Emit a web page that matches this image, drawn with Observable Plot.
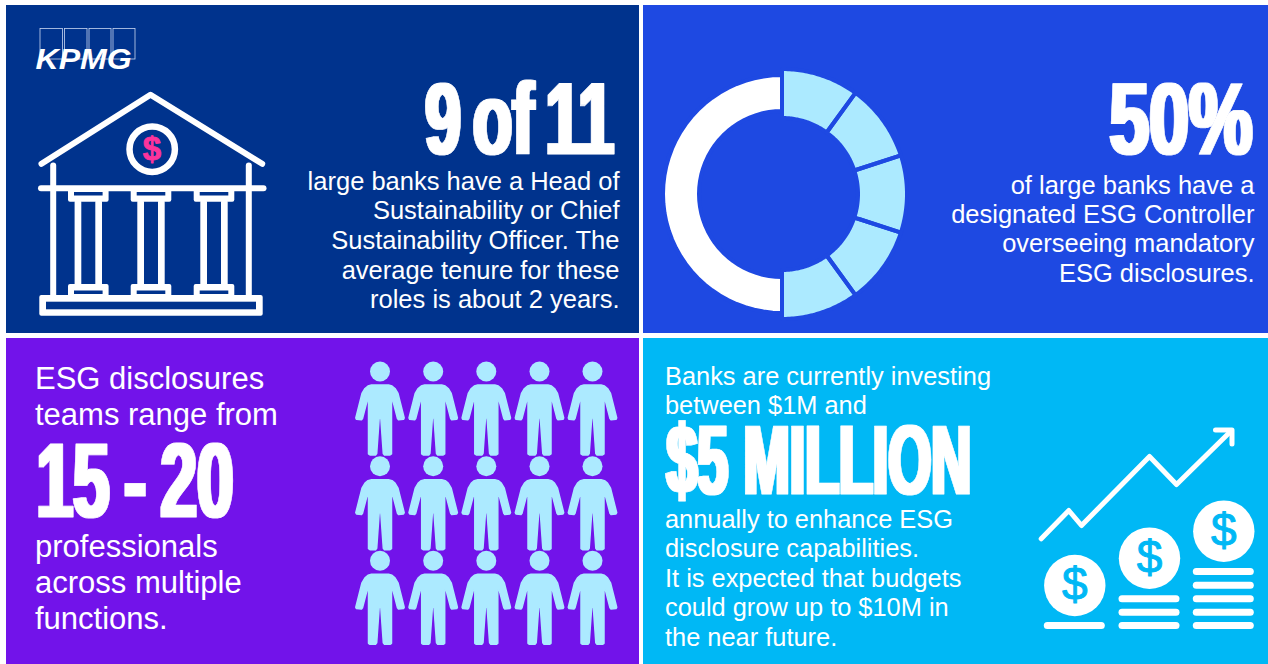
<!DOCTYPE html>
<html>
<head>
<meta charset="utf-8">
<script src="https://cdn.jsdelivr.net/npm/d3@7"></script>
<script src="https://cdn.jsdelivr.net/npm/@observablehq/plot@0.6"></script>
<style>
  html, body { margin: 0; padding: 0; background: #fff; overflow: hidden; }
  svg { display: block; }
  #filters { position: absolute; width: 0; height: 0; }
</style>
</head>
<body>
<!-- Widens vertical stems only, giving the display figures their heavy condensed look -->
<svg id="filters" width="0" height="0"><defs>
  <filter id="stems" x="-5%" y="-5%" width="110%" height="110%" color-interpolation-filters="sRGB">
    <feMorphology operator="dilate" radius="2.4 0"/>
  </filter>
</defs></svg>
<div id="chart"></div>
<script>
// Palette
const navy = "#00338D", royal = "#1E49E2", purple = "#7213EA", cyan = "#00B8F5";
const pale = "#ACEAFF", pink = "#FD349C", white = "#FFFFFF";
const sans = "Liberation Sans, Arial, sans-serif";

// Four quadrants
const panels = [
  {x1: 6, x2: 639, y1: 5, y2: 333, fill: navy},
  {x1: 643, x2: 1268, y1: 5, y2: 333, fill: royal},
  {x1: 6, x2: 639, y1: 338, y2: 664, fill: purple},
  {x1: 643, x2: 1268, y1: 338, y2: 664, fill: cyan}
];

// Copy
const headLines = ["large banks have a Head of", "Sustainability or Chief", "Sustainability Officer. The", "average tenure for these", "roles is about 2 years."];
const controllerLines = ["of large banks have a", "designated ESG Controller", "overseeing mandatory", "ESG disclosures."];
const teamLinesTop = ["ESG disclosures", "teams range from"];
const teamLinesBottom = ["professionals", "across multiple", "functions."];
const investLinesTop = ["Banks are currently investing", "between $1M and"];
const investLinesBottom = ["annually to enhance ESG", "disclosure capabilities.", "It is expected that budgets", "could grow up to $10M in", "the near future."];

// Donut: half the ring is white, the other half is cut into five equal slices
const donutShares = [50, 10, 10, 10, 10, 10];
const donutFills = [white, pale, pale, pale, pale, pale];
const donutCenter = [781.5, 193.5];
const donutRadii = [[83, 119], [76, 125], [76, 125], [76, 125], [76, 125], [76, 125]];

// Team pictogram
const peopleX = [379.5, 432.7, 485.8, 539, 592];
const peopleY = [371, 465.7, 560.3];
const personRight = [[0, 13.5], [8.5, 13.5], [12, 14.5], [15, 17], [18, 22], [24.2, 46.5], [23.5, 47.8], [18.5, 48.2], [17.5, 47], [12.8, 29], [11.5, 29], [11.5, 82.5], [10, 83.5], [4.5, 83.5], [3.3, 82], [0.8, 46.5], [0, 46.5]];

// Bank building
const roof = [[41, 163.3], [150, 94.3], [261.7, 163.3]];
const walls = [52.7, 248.3];
const columnX = [88.3, 151, 214];

// Growth arrow and coin stacks
const trend = [[1040.7, 538.3], [1068.3, 510], [1081, 525], [1149, 456], [1176, 484], [1230, 431]];
const arrowHead = [[1215, 429.5], [1231.5, 429.5], [1231.5, 443.5]];
const coins = [{x: 1074.3, y: 585, bars: [625]}, {x: 1149, y: 557.7, bars: [598.3, 611.7, 625]}, {x: 1223.3, y: 530.7, bars: [571, 584.7, 598.3, 611.7, 625]}];

// Logo boxes
const logoBoxes = [[40, 62.5], [64.5, 87], [89, 111], [113, 135]];

// Stretches each text of a mark around its own anchor
const stretched = (sx, sy, extra = {}) => (index, scales, values, dimensions, context, next) => {
  const g = next(index, scales, values, dimensions, context);
  g.querySelectorAll("text").forEach((t) => {
    t.setAttribute("transform", `${t.getAttribute("transform") || ""} scale(${sx},${sy})`);
    if (extra.wordSpacing) t.style.wordSpacing = extra.wordSpacing;
  });
  if (extra.filter) g.setAttribute("filter", extra.filter);
  return g;
};

// One paragraph of left or right aligned lines
const paragraph = (lines, x, yStart, step, size, anchor) =>
  Plot.text(lines, {
    x: () => x, y: (d, i) => yStart + i * step, text: (d) => d,
    fill: white, fontFamily: sans, fontSize: size, textAnchor: anchor
  });

// Condensed display figure, y is its baseline
const headline = (label, x, y, anchor, size, sx, spacing) =>
  Plot.text([label], {
    x: () => x, y: () => y, text: (d) => d,
    fill: white, stroke: white, strokeWidth: 0.8,
    fontFamily: sans, fontWeight: "bold", fontSize: size, textAnchor: anchor,
    lineAnchor: "bottom",
    render: stretched(sx, 1, {wordSpacing: spacing, filter: "url(#stems)"})
  });

// Ring slices as polygons computed from the shares
const pie = d3.pie().sort(null)(donutShares);
const donutPolys = pie.flatMap((s, k) => {
  const [r0, r1] = donutRadii[k];
  const steps = d3.range(0, 41).map((i) => s.startAngle + (s.endAngle - s.startAngle) * i / 40);
  // White half sits on the left, the slices run clockwise from the top on the right
  const base = k === 0 ? Math.PI : -Math.PI;
  const pts = [...steps.map((a) => [a + base, r1]), ...steps.slice().reverse().map((a) => [a + base, r0])];
  return [...pts, pts[0]].map(([a, r]) => ({
    slice: k, fill: donutFills[k],
    x: donutCenter[0] + r * Math.sin(a),
    y: donutCenter[1] - r * Math.cos(a)
  }));
});

// Persons assembled from the mirrored half outline
const personOutline = [...personRight, ...personRight.slice().reverse().map(([dx, dy]) => [-dx, dy])];
const peopleHeads = peopleY.flatMap((y) => peopleX.map((x) => ({x, y})));
const peopleBodies = peopleHeads.flatMap((h, id) => personOutline.map(([dx, dy]) => ({id, x: h.x + dx, y: h.y + dy})));

// Bank rectangles, painted white first and navy on top
const bankWhite = [
  ...columnX.flatMap((c) => [
    {x1: c - 20.3, x2: c + 20.3, y1: 189, y2: 201.7},
    {x1: c - 13.7, x2: c - 7, y1: 200, y2: 286},
    {x1: c + 7, x2: c + 13.7, y1: 200, y2: 286},
    {x1: c - 20.3, x2: c + 20.3, y1: 284, y2: 297}
  ]),
  {x1: 39.3, x2: 262.7, y1: 295, y2: 315.7}
];
const bankNavy = [
  ...columnX.flatMap((c) => [
    {x1: c - 14.3, x2: c + 14.3, y1: 192, y2: 195.5},
    {x1: c - 14.3, x2: c + 14.3, y1: 290.5, y2: 294}
  ]),
  {x1: 46, x2: 256, y1: 301.7, y2: 309.3}
];

const xy = {x: (d) => d[0], y: (d) => d[1]};

const chart = Plot.plot({
  width: 1268,
  height: 664,
  margin: 0,
  x: {domain: [0, 1268], range: [0, 1268], axis: null},
  y: {domain: [0, 664], range: [0, 664], axis: null},
  style: {background: "#fff"},
  marks: [
    Plot.rect(panels, {x1: "x1", x2: "x2", y1: "y1", y2: "y2", fill: "fill"}),

    // Logo
    Plot.rect(logoBoxes, {x1: (d) => d[0], x2: (d) => d[1], y1: () => 28.5, y2: () => 59, stroke: "#C9D6F0", strokeWidth: 0.8, fill: "none"}),
    Plot.text(["KPMG"], {x: () => 35, y: () => 68.5, text: (d) => d, fill: white, fontFamily: sans, fontWeight: "bold", fontStyle: "italic", fontSize: 30, textAnchor: "start", lineAnchor: "bottom", render: stretched(1.07, 1)}),

    // Bank
    Plot.line(walls.flatMap((x) => [[x, 165], [x, 296]]), {...xy, z: (d) => d[0], stroke: white, strokeWidth: 6}),
    Plot.rect(bankWhite, {x1: "x1", x2: "x2", y1: "y1", y2: "y2", fill: white, r: 2}),
    Plot.rect(bankNavy, {x1: "x1", x2: "x2", y1: "y1", y2: "y2", fill: navy}),
    Plot.line(roof, {...xy, stroke: white, strokeWidth: 6, strokeLinecap: "round", strokeLinejoin: "round"}),
    Plot.line([[40.5, 187.7], [263, 187.7]], {...xy, stroke: white, strokeWidth: 6, strokeLinecap: "round"}),
    Plot.dot([[151.7, 148.7]], {...xy, r: 22.7, stroke: white, strokeWidth: 6.5, fill: "none"}),
    Plot.text(["$"], {x: () => 151.5, y: () => 149, text: (d) => d, fill: pink, stroke: pink, strokeWidth: 0.8, fontFamily: sans, fontWeight: "bold", fontSize: 33}),

    // Top left copy
    headline("9 of 11", 613.5, 153.5, "end", 102, 0.635, "-10px"),
    paragraph(headLines, 619, 181, 29.7, 25.5, "end"),

    // Donut fills first, then the gaps so no slice paints over a neighbour's edge
    Plot.line(donutPolys, {x: "x", y: "y", z: "slice", fill: "fill", stroke: "none"}),
    Plot.line(donutPolys, {x: "x", y: "y", z: "slice", fill: "none", stroke: royal, strokeWidth: 4}),

    // Top right copy
    headline("50%", 1252, 153.5, "end", 102, 0.7, "0"),
    paragraph(controllerLines, 1254, 185, 29.4, 25.5, "end"),

    // Bottom left copy
    paragraph(teamLinesTop, 34.5, 379, 36, 31, "start"),
    headline("15 - 20", 36, 516.5, "start", 106, 0.62, "-6px"),
    paragraph(teamLinesBottom, 34.5, 547, 36, 31, "start"),

    // People
    Plot.line(peopleBodies, {x: "x", y: "y", z: "id", fill: pale, stroke: pale, strokeWidth: 1.5, strokeLinejoin: "round"}),
    Plot.dot(peopleHeads, {x: "x", y: "y", r: 10, fill: pale}),

    // Bottom right copy
    paragraph(investLinesTop, 664.5, 376, 29.4, 25.4, "start"),
    headline("$5 MILLION", 666, 493, "start", 99, 0.56, "0"),
    paragraph(investLinesBottom, 664.5, 519, 29.5, 25.4, "start"),

    // Growth arrow
    Plot.line(trend, {...xy, stroke: white, strokeWidth: 5, strokeLinecap: "round", strokeLinejoin: "round"}),
    Plot.line(arrowHead, {...xy, stroke: white, strokeWidth: 5, strokeLinecap: "round", strokeLinejoin: "round"}),

    // Coins and their stacks
    Plot.dot(coins, {x: "x", y: "y", r: 30.7, fill: white}),
    Plot.text(coins, {x: "x", y: "y", text: () => "$", fill: cyan, stroke: cyan, strokeWidth: 1, fontFamily: sans, fontSize: 46}),
    Plot.ruleY(coins.flatMap((c) => c.bars.map((y) => ({y, x1: c.x - 27, x2: c.x + 27}))), {y: "y", x1: "x1", x2: "x2", stroke: white, strokeWidth: 7, strokeLinecap: "round"})
  ]
});

document.getElementById("chart").append(chart);
</script>
</body>
</html>
